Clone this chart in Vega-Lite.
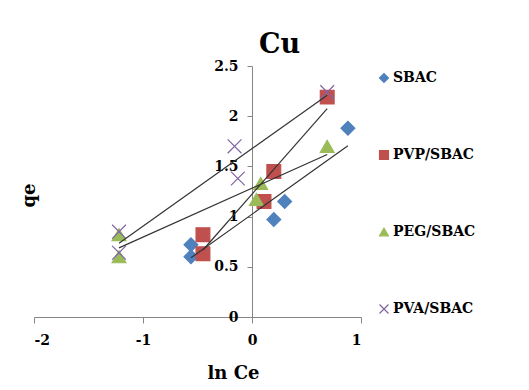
{
  "$schema": "https://vega.github.io/schema/vega-lite/v6.json",
  "width": 327,
  "height": 251,
  "autosize": "none",
  "padding": {"left": 34, "top": 66, "right": 168, "bottom": 73},
  "background": "white",
  "title": {"text": "Cu", "font": "DejaVu Serif", "fontSize": 27, "fontWeight": "bold", "color": "black", "anchor": "middle", "dx": 82, "offset": 0},
  "config": {
    "view": {"stroke": null},
    "axis": {"labelFont": "DejaVu Serif", "labelFontWeight": "bold", "labelFontSize": 14, "labelColor": "black", "titleFont": "DejaVu Serif", "titleFontWeight": "bold", "titleFontSize": 18, "titleColor": "black", "domainColor": "#868686", "tickColor": "#868686", "grid": false}
  },
  "data": {"values": [
    {"series": "SBAC", "x": -0.56, "y": 0.72},
    {"series": "SBAC", "x": -0.56, "y": 0.60},
    {"series": "SBAC", "x": 0.20, "y": 0.97},
    {"series": "SBAC", "x": 0.30, "y": 1.15},
    {"series": "SBAC", "x": 0.88, "y": 1.88},
    {"series": "PVP/SBAC", "x": -0.45, "y": 0.82},
    {"series": "PVP/SBAC", "x": -0.45, "y": 0.63},
    {"series": "PVP/SBAC", "x": 0.11, "y": 1.15},
    {"series": "PVP/SBAC", "x": 0.20, "y": 1.45},
    {"series": "PVP/SBAC", "x": 0.69, "y": 2.19},
    {"series": "PEG/SBAC", "x": -1.22, "y": 0.82},
    {"series": "PEG/SBAC", "x": -1.22, "y": 0.60},
    {"series": "PEG/SBAC", "x": 0.04, "y": 1.17},
    {"series": "PEG/SBAC", "x": 0.08, "y": 1.33},
    {"series": "PEG/SBAC", "x": 0.69, "y": 1.70},
    {"series": "PVA/SBAC", "x": -1.22, "y": 0.85},
    {"series": "PVA/SBAC", "x": -1.22, "y": 0.64},
    {"series": "PVA/SBAC", "x": -0.16, "y": 1.70},
    {"series": "PVA/SBAC", "x": -0.13, "y": 1.38},
    {"series": "PVA/SBAC", "x": 0.69, "y": 2.24}
  ]},
  "encoding": {
    "x": {"field": "x", "type": "quantitative", "scale": {"domain": [-2, 1], "nice": false, "zero": false},
      "axis": {"title": "ln Ce", "values": [-2, -1, 0, 1], "labelExpr": "'' + datum.value", "tickSize": 6, "labelPadding": 10, "titleX": 199, "titleY": 47}},
    "y": {"field": "y", "type": "quantitative", "scale": {"domain": [0, 2.5], "nice": false},
      "axis": {"title": "qe", "values": [0, 0.5, 1, 1.5, 2, 2.5], "labelExpr": "'' + datum.value", "offset": -218, "tickSize": 5, "labelPadding": 9, "titleX": -214, "titleY": 129}}
  },
  "layer": [
    {
      "mark": {"type": "point", "filled": false, "strokeWidth": 1.2, "opacity": 1},
      "encoding": {
        "shape": {"field": "series", "type": "nominal", "scale": {"domain": ["SBAC", "PVP/SBAC", "PEG/SBAC", "PVA/SBAC"], "range": ["diamond", "square", "triangle-up", "M-1,-1L1,1M-1,1L1,-1"]},
          "legend": {"title": null, "orient": "right", "offset": 11, "padding": 5, "labelFont": "DejaVu Serif", "labelFontWeight": "bold", "labelFontSize": 14, "labelColor": "black", "rowPadding": 63, "symbolSize": 80, "symbolStrokeWidth": 1.2, "labelOffset": 2}},
        "fill": {"field": "series", "type": "nominal", "scale": {"domain": ["SBAC", "PVP/SBAC", "PEG/SBAC", "PVA/SBAC"], "range": ["#4F81BD", "#C0504D", "#9BBB59", "transparent"]}},
        "stroke": {"field": "series", "type": "nominal", "scale": {"domain": ["SBAC", "PVP/SBAC", "PEG/SBAC", "PVA/SBAC"], "range": ["#4F81BD", "#C0504D", "#9BBB59", "#8064A2"]}},
        "size": {"value": 190}
      }
    },
    {
      "transform": [{"regression": "y", "on": "x", "groupby": ["series"]}],
      "mark": {"type": "line", "color": "#333333", "strokeWidth": 1.2},
      "encoding": {"detail": {"field": "series", "type": "nominal"}}
    }
  ]
}
